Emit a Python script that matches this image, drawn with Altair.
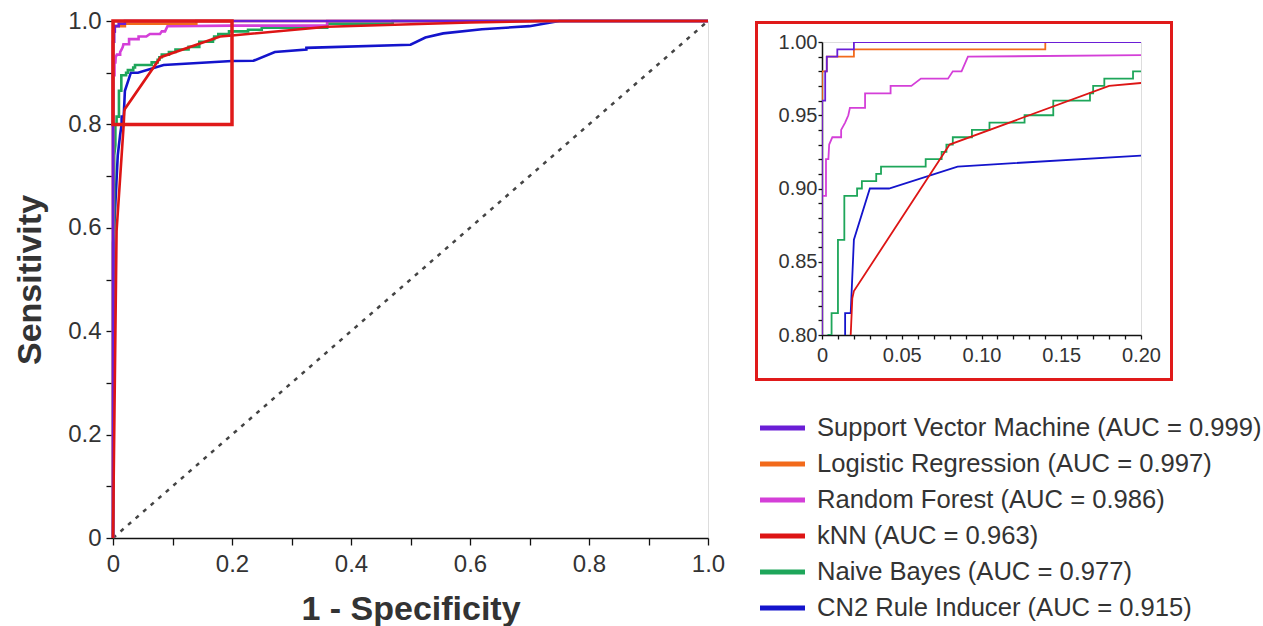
import altair as alt
import pandas as pd

# ---------------- data ----------------
models = ["Support Vector Machine", "Logistic Regression", "Random Forest",
          "kNN", "Naive Bayes", "CN2 Rule Inducer"]
auc = [0.999, 0.997, 0.986, 0.963, 0.977, 0.915]
colors = ["#6a1ed6", "#f26a1b", "#d43fd8", "#dd1515", "#1ea65a", "#1414cc"]

svm_x = [0, 0, 0.002, 0.002, 0.003, 0.003, 0.0096, 0.0096, 0.02, 0.02, 1.0]
svm_y = [0, 0.96, 0.96, 0.98, 0.98, 0.99, 0.99, 0.995, 0.995, 1.0, 1.0]

lr_x = [0, 0, 0.003, 0.003, 0.02, 0.02, 0.14, 0.14, 1.0]
lr_y = [0, 0.98, 0.98, 0.99, 0.99, 0.995, 0.995, 1.0, 1.0]

rf_x = [0, 0, 0.0025, 0.0025, 0.004, 0.0045, 0.0065, 0.012, 0.012, 0.0145, 0.0165,
        0.0175, 0.027, 0.027, 0.043, 0.043, 0.056, 0.062, 0.079, 0.082, 0.0875,
        0.0915, 0.2, 0.36, 0.36, 1.0]
rf_y = [0, 0.895, 0.895, 0.92, 0.92, 0.93, 0.935, 0.935, 0.94, 0.945, 0.95,
        0.955, 0.955, 0.965, 0.965, 0.97, 0.97, 0.975, 0.975, 0.98, 0.98,
        0.99, 0.991, 0.991, 1.0, 1.0]

knn_x = [0, 0.006, 0.018, 0.019, 0.02, 0.08, 0.18, 0.2, 0.36, 0.6, 0.72, 1.0]
knn_y = [0, 0.594, 0.8, 0.825, 0.83, 0.93, 0.97, 0.972, 0.989, 0.997, 1.0, 1.0]

nb_x = [0, 0, 0.002, 0.002, 0.004, 0.004, 0.006, 0.006, 0.01, 0.01, 0.014, 0.014,
        0.022, 0.022, 0.025, 0.025, 0.034, 0.034, 0.037, 0.037, 0.065, 0.065,
        0.075, 0.075, 0.078, 0.078, 0.082, 0.082, 0.094, 0.094, 0.105, 0.105,
        0.127, 0.127, 0.145, 0.145, 0.168, 0.168, 0.17, 0.17, 0.177, 0.177,
        0.195, 0.195, 0.227, 0.227, 0.25, 0.25, 0.36, 0.36, 0.47, 0.47, 1.0]
nb_y = [0, 0.57, 0.6, 0.74, 0.76, 0.8, 0.8, 0.815, 0.815, 0.865, 0.865, 0.895,
        0.895, 0.9, 0.9, 0.905, 0.905, 0.91, 0.91, 0.915, 0.915, 0.92,
        0.92, 0.925, 0.925, 0.93, 0.93, 0.935, 0.935, 0.94, 0.94, 0.945,
        0.945, 0.95, 0.95, 0.96, 0.96, 0.965, 0.965, 0.97, 0.97, 0.975,
        0.975, 0.98, 0.98, 0.983, 0.983, 0.987, 0.987, 0.995, 0.995, 1.0, 1.0]

cn2_x = [0, 0.002, 0.008, 0.012, 0.0145, 0.0145, 0.018, 0.02, 0.03, 0.042, 0.085,
         0.2, 0.236, 0.272, 0.325, 0.325, 0.5, 0.525, 0.555, 0.62, 0.7, 0.75, 1.0]
cn2_y = [0, 0.6, 0.74, 0.78, 0.8, 0.815, 0.815, 0.865, 0.9, 0.9, 0.915,
         0.9225, 0.923, 0.94, 0.945, 0.948, 0.954, 0.968, 0.976, 0.984, 0.99, 1.0, 1.0]

curves = {
    "Support Vector Machine": (svm_x, svm_y),
    "Logistic Regression": (lr_x, lr_y),
    "Random Forest": (rf_x, rf_y),
    "kNN": (knn_x, knn_y),
    "Naive Bayes": (nb_x, nb_y),
    "CN2 Rule Inducer": (cn2_x, cn2_y),
}
draw_order = ["CN2 Rule Inducer", "Naive Bayes", "Random Forest",
              "Logistic Regression", "Support Vector Machine", "kNN"]

diag_x = [0, 1]
diag_y = [0, 1]
zoom_box = [0, 0.2, 0.8, 1.0]   # x0, x1, y0, y1

main_major = [0, 0.2, 0.4, 0.6, 0.8, 1.0]
main_ticks = [round(k * 0.05, 2) for k in range(21)]
inset_x_ticks = [round(k * 0.01, 2) for k in range(21)]
inset_y_ticks = [round(0.8 + k * 0.01, 2) for k in range(21)]

# ---------------- tables ----------------
rows = []
for m in draw_order:
    xs, ys = curves[m]
    for i, (a, b) in enumerate(zip(xs, ys)):
        rows.append({"model": m, "fpr": a, "tpr": b, "i": i})
df = pd.DataFrame(rows)
diag_df = pd.DataFrame({"fpr": diag_x, "tpr": diag_y})
box_df = pd.DataFrame({"x0": [zoom_box[0]], "x1": [zoom_box[1]],
                       "y0": [zoom_box[2]], "y1": [zoom_box[3]]})
labels = [f"{m} (AUC = {a:.3f})" for m, a in zip(models, auc)]
leg_df = pd.DataFrame({"model": models, "label": labels, "idx": list(range(len(models)))})
one_df = pd.DataFrame({"a": [0]})

color_scale = alt.Scale(domain=models, range=colors)
FONT = "Liberation Sans"
TXT = "#333333"

main_label = ("abs(datum.value*5 - round(datum.value*5)) < 0.001 ? "
              "(datum.value == 0 ? '0' : format(datum.value, '.1f')) : ''")
inset_y_label = ("abs(datum.value*20 - round(datum.value*20)) < 0.001 ? "
                 "format(datum.value, '.2f') : ''")
inset_x_label = ("abs(datum.value*20 - round(datum.value*20)) < 0.001 ? "
                 "(datum.value == 0 ? '0' : format(datum.value, '.2f')) : ''")

common_axis = dict(grid=False, labelFont=FONT, titleFont=FONT, labelColor=TXT,
                   titleColor=TXT, domainColor="#111111", domainWidth=1.5,
                   tickColor="#111111", tickWidth=1.3, labelFlush=False,
                   labelOverlap=False)

main_x_axis = alt.Axis(values=main_ticks, labelExpr=main_label, title="1 - Specificity",
                       tickSize=7, labelFontSize=24, labelPadding=7,
                       titleFontSize=34, titleFontWeight="bold", titlePadding=16,
                       **common_axis)
main_y_axis = alt.Axis(values=main_ticks, labelExpr=main_label, title="Sensitivity",
                       tickSize=7, labelFontSize=24, labelPadding=5,
                       titleFontSize=34, titleFontWeight="bold", titlePadding=20,
                       **common_axis)

# ---------------- main chart ----------------
xs_main = alt.Scale(domain=[0, 1], nice=False, zero=False)
ys_main = alt.Scale(domain=[0, 1], nice=False, zero=False)

diag = alt.Chart(diag_df).mark_line(color="#444444", strokeWidth=2.5,
                                    strokeDash=[4, 6]).encode(
    x=alt.X("fpr:Q", scale=xs_main, axis=main_x_axis),
    y=alt.Y("tpr:Q", scale=ys_main, axis=main_y_axis),
)
lines_main = alt.Chart(df).mark_line(strokeWidth=2.6).encode(
    x=alt.X("fpr:Q", scale=xs_main, axis=main_x_axis),
    y=alt.Y("tpr:Q", scale=ys_main, axis=main_y_axis),
    color=alt.Color("model:N", scale=color_scale, legend=None),
    order="i:Q",
)
box = alt.Chart(box_df).mark_rect(fill="transparent", stroke="#e01a1a",
                                  strokeWidth=3.5).encode(
    x="x0:Q", x2="x1:Q", y="y0:Q", y2="y1:Q"
)
main = alt.layer(diag, lines_main, box).properties(width=595, height=517)

# ---------------- inset ----------------
inset_x_axis = alt.Axis(values=inset_x_ticks, labelExpr=inset_x_label, title=None,
                        tickSize=4, labelFontSize=20, labelPadding=6, **common_axis)
inset_y_axis = alt.Axis(values=inset_y_ticks, labelExpr=inset_y_label, title=None,
                        tickSize=4, labelFontSize=20, labelPadding=1, **common_axis)

lines_inset = alt.Chart(df).mark_line(strokeWidth=1.8, clip=True).encode(
    x=alt.X("fpr:Q", scale=alt.Scale(domain=[0, 0.2], nice=False, zero=False),
            axis=inset_x_axis),
    y=alt.Y("tpr:Q", scale=alt.Scale(domain=[0.8, 1.0], nice=False, zero=False),
            axis=inset_y_axis),
    color=alt.Color("model:N", scale=color_scale, legend=None),
    order="i:Q",
)
frame = alt.Chart(one_df).mark_rect(fill="transparent", stroke="#e01a1a",
                                    strokeWidth=3, clip=False).encode(
    x=alt.value(-65.5), x2=alt.value(349.5), y=alt.value(-19.5), y2=alt.value(337.5)
)
inset = alt.layer(lines_inset, frame).properties(width=319, height=293)

# ---------------- legend ----------------
leg_y = alt.Y("idx:Q", scale=alt.Scale(domain=[0, 5], range=[83, 263], nice=False,
                                       zero=False), axis=None)
leg_rules = alt.Chart(leg_df).mark_rule(strokeWidth=5).encode(
    x=alt.value(-62), x2=alt.value(-17), y=leg_y,
    color=alt.Color("model:N", scale=color_scale, legend=None),
)
leg_text = alt.Chart(leg_df).mark_text(align="left", baseline="middle", fontSize=25.6,
                                       font=FONT, color=TXT).encode(
    x=alt.value(-5), y=leg_y, text="label:N"
)
legend = alt.layer(leg_rules, leg_text).properties(
    width=319, height=270, view=alt.ViewBackground(stroke="transparent"))

spacer = alt.Chart(one_df).mark_point(opacity=0).encode(
    x=alt.value(0), y=alt.value(0)
).properties(width=319, height=11, view=alt.ViewBackground(stroke="transparent"))

right = alt.vconcat(spacer, inset, legend, spacing=10, bounds="flush")

chart = alt.hconcat(main, right, spacing=114, bounds="flush").properties(
    padding={"left": 13, "top": 8, "right": 0, "bottom": 0}
).configure_view(stroke="#111111", strokeWidth=1.5).configure(font=FONT)

chart.save("out.html", embed_options={"renderer": "svg", "actions": False})
